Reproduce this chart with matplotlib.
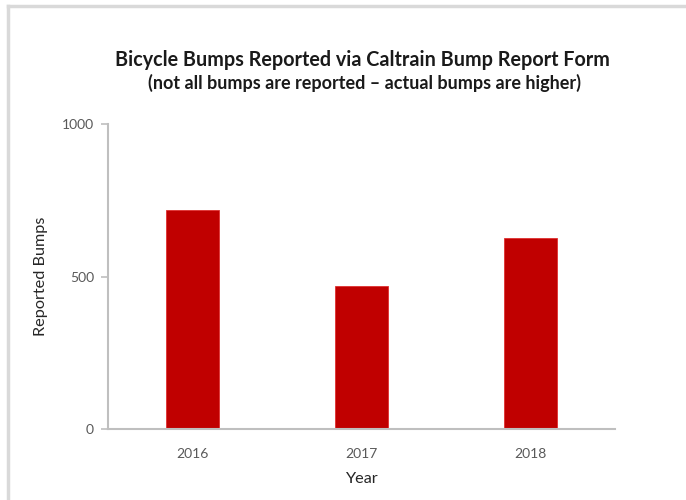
import matplotlib
matplotlib.use("Agg")
import matplotlib.pyplot as plt
from matplotlib.lines import Line2D

years = ["2016", "2017", "2018"]
bumps = [718, 468, 626]
yticks = [0, 500, 1000]

plt.rcParams['font.family'] = ['Lato', 'DejaVu Sans']

fig = plt.figure(figsize=(6.86, 5.0), dpi=100)
ax = fig.add_axes([108/686, 1 - 429/500, (615-108)/686, (429-124)/500])

ax.bar(range(len(years)), bumps, width=0.31, color="#C00000", edgecolor="#E03030", linewidth=0.6)
ax.set_xlim(-0.5, 2.5)
ax.set_ylim(0, 1000)
ax.set_yticks(yticks)
ax.set_xticks(range(len(years)))
ax.set_xticklabels(years)

for s in ["top", "right"]:
    ax.spines[s].set_visible(False)
for s in ["left", "bottom"]:
    ax.spines[s].set_color("#BFBFBF")
    ax.spines[s].set_linewidth(1.5)
ax.tick_params(axis="y", colors="#BFBFBF", labelcolor="#595959", labelsize=10, length=5, width=1.2, pad=5)
ax.tick_params(axis="x", length=0, labelcolor="#595959", labelsize=10, pad=14)

ax.set_ylabel("Reported Bumps", fontsize=11.7, color="#262626", labelpad=10)
ax.set_xlabel("Year", fontsize=11.7, color="#262626", labelpad=8)

fig.text(362/686, 1 - 60/500, "Bicycle Bumps Reported via Caltrain Bump Report Form",
         ha="center", va="center", fontsize=14.2, fontweight="bold", color="#1a1a1a")
fig.text(364/686, 1 - 83/500, "(not all bumps are reported \u2013 actual bumps are higher)",
         ha="center", va="center", fontsize=13, fontweight="bold", color="#1a1a1a")

# partial frame border (top and left edges visible)
fig.add_artist(Line2D([8/686, 1], [1 - 6/500, 1 - 6/500], transform=fig.transFigure, color="#D9D9D9", linewidth=2.5))
fig.add_artist(Line2D([8/686, 8/686], [0, 1 - 6/500], transform=fig.transFigure, color="#D9D9D9", linewidth=2.5))

fig.savefig("out.png", dpi=100)
